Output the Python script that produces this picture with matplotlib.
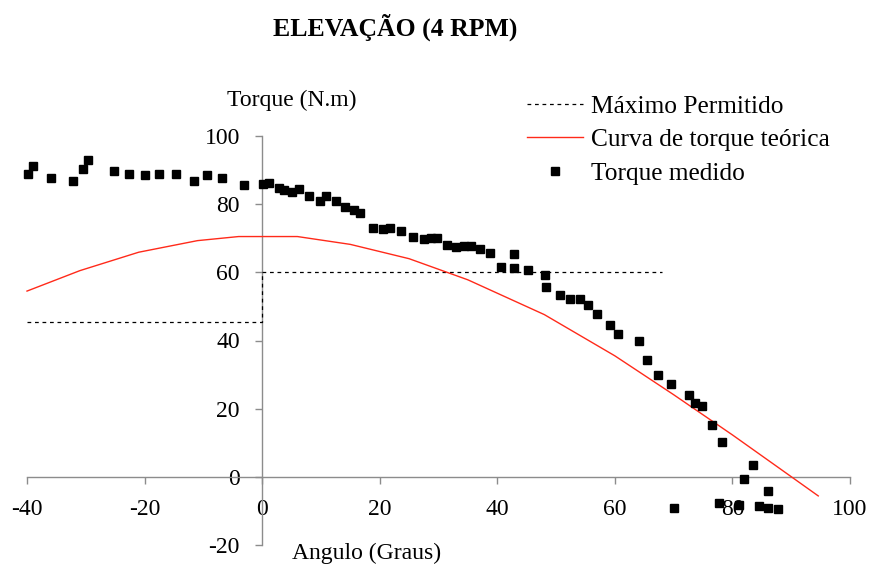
import matplotlib
matplotlib.use("Agg")
import matplotlib.pyplot as plt

plt.rcParams['font.family'] = ['Liberation Serif', 'DejaVu Serif']
plt.rcParams['axes.unicode_minus'] = False

# Limit ("Máximo Permitido")
limit_x = [-40, 0, 0, 68]
limit_y = [45.5, 45.5, 60, 60]

# Theoretical torque curve
theo_x = [-40, -31, -21, -11, -4, 6, 15, 25, 35, 48, 60, 70, 80, 88, 94.6]
theo_y = [54.5, 60.5, 65.9, 69.3, 70.5, 70.5, 68.2, 64.0, 57.8, 47.6, 35.5, 24.1, 12.3, 2.5, -5.6]

# Measured torque
meas_x = [-39.9, -39.0, -35.9, -32.1, -30.4, -29.7, -25.2, -22.6, -19.9, -17.5,
          -14.7, -11.6, -9.4, -6.8, -3.1, 0.1, 1.1, 2.9, 3.8, 5.0,
          6.3, 7.9, 9.9, 10.9, 12.5, 14.1, 15.7, 16.7, 18.8, 20.5,
          21.7, 23.7, 25.6, 27.6, 28.8, 29.8, 31.4, 33.0, 34.3, 35.5,
          37.1, 38.7, 40.7, 42.8, 42.9, 45.2, 48.2, 48.3, 50.6, 52.4,
          54.0, 55.4, 57.0, 59.2, 60.6, 64.1, 65.4, 67.3, 69.6, 72.6,
          73.7, 74.9, 76.6, 78.2, 83.5, 81.9, 86.0, 70.0, 77.7, 81.2,
          84.6, 86.0, 87.7]
meas_y = [88.8, 91.1, 87.7, 86.9, 90.4, 93.1, 89.8, 88.8, 88.5, 88.8,
          88.8, 86.9, 88.5, 87.7, 85.6, 85.9, 86.3, 84.8, 84.1, 83.7,
          84.4, 82.4, 81.0, 82.4, 81.0, 79.2, 78.4, 77.5, 73.1, 72.7,
          73.1, 72.2, 70.4, 69.7, 70.2, 70.2, 67.9, 67.4, 67.7, 67.7,
          66.8, 65.8, 61.6, 65.5, 61.3, 60.6, 59.2, 55.8, 53.4, 52.2,
          52.2, 50.4, 47.8, 44.5, 41.9, 40.0, 34.2, 29.9, 27.3, 24.1,
          21.7, 20.8, 15.1, 10.2, 3.5, -0.5, -4.1, -9.0, -7.7, -8.2,
          -8.6, -9.0, -9.4]

xticks = [-40, -20, 0, 20, 40, 60, 80, 100]
yticks = [-20, 0, 20, 40, 60, 80, 100]

fig = plt.figure(figsize=(8.7, 5.65), dpi=100)
ax = fig.add_axes([27/870, 1-545/565, (850-27)/870, (545-136)/565])
ax.patch.set_alpha(0)

ax.plot(limit_x, limit_y, linestyle=(0, (3, 3)), color='black', lw=0.9,
        label='Máximo Permitido', clip_on=False, zorder=3)
ax.plot(theo_x, theo_y, color='#ff2a1a', lw=1.0, label='Curva de torque teórica',
        clip_on=False, zorder=3)
ax.plot(meas_x, meas_y, linestyle='none', marker='s', ms=5.6, color='black',
        label='Torque medido', clip_on=False, zorder=4)

ax.set_xlim(-40, 100)
ax.set_ylim(-20, 100)
ax.spines['left'].set_position(('data', 0))
ax.spines['bottom'].set_position(('data', 0))
ax.spines['top'].set_visible(False)
ax.spines['right'].set_visible(False)
for s in ('left', 'bottom'):
    ax.spines[s].set_color('#8c8c8c')
    ax.spines[s].set_linewidth(1.0)
ax.set_xticks(xticks)
ax.set_yticks(yticks)
ax.tick_params(axis='both', direction='out', length=5, width=1.0, color='#8c8c8c',
               labelsize=17, pad=11)

fig.text(395/870, 1-27/565, 'ELEVAÇÃO (4 RPM)', ha='center', va='center',
         fontsize=18.5, fontweight='bold')
fig.text(292/870, 1-100/565, 'Torque (N.m)', ha='center', va='center', fontsize=17)
fig.text(367/870, 1-553/565, 'Angulo (Graus)', ha='center', va='center', fontsize=17)

ax.legend(loc='upper left', bbox_to_anchor=(527/870, 1-95/565),
          bbox_transform=fig.transFigure, frameon=False, fontsize=18.3,
          handlelength=2.2, handletextpad=0.3, labelspacing=0.42, borderpad=0,
          borderaxespad=0, markerscale=1.1)

fig.savefig('out.png', dpi=100)
